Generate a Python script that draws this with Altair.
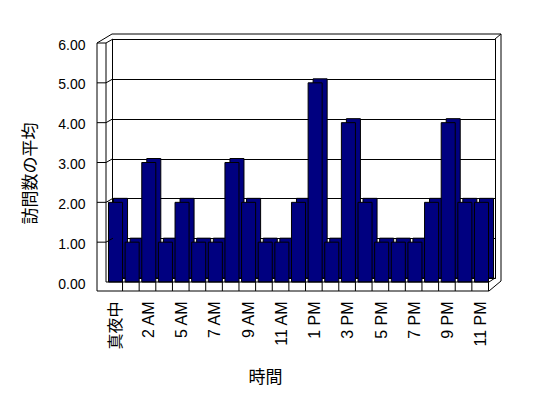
import altair as alt
import pandas as pd

# ---- data ----
hours = ["真夜中", "1 AM", "2 AM", "3 AM", "5 AM", "6 AM", "7 AM", "8 AM", "9 AM",
         "10 AM", "11 AM", "正午", "1 PM", "2 PM", "3 PM", "4 PM", "5 PM", "6 PM",
         "7 PM", "8 PM", "9 PM", "10 PM", "11 PM"]
visits = [2, 1, 3, 1, 2, 1, 1, 3, 2, 1, 1, 2, 5, 1, 4, 2, 1, 1, 1, 2, 4, 2, 2]
y_ticks = [0, 1, 2, 3, 4, 5, 6]
wall_levels = [1, 2, 3, 4, 5]
shown_labels = hours[::2]

df = pd.DataFrame({"hour": hours, "visits": visits})
lv = pd.DataFrame({"lvl": wall_levels})

# ---- style ----
NAVY = "#000080"
W, H = 383, 239
FONT = "Liberation Sans, Noto Sans CJK JP, sans-serif"
CJK = "Noto Sans CJK JP"

x_scale = alt.Scale(domain=hours, paddingInner=0.156, paddingOuter=0.09)
y_scale = alt.Scale(domain=[0, 6], nice=False)

x_axis = alt.Axis(values=shown_labels, labelAngle=-90, labelAlign="right",
                  labelBaseline="middle", labelPadding=23, labelOffset=-5,
                  labelOverlap=False, ticks=False, domain=False, grid=False,
                  labelFont=FONT, labelFontSize=16, labelColor="black",
                  title="時間", titleFont=CJK, titleFontSize=17,
                  titleFontWeight="normal", titleX=153, titleY=99,
                  titleAlign="center", titleBaseline="middle", titleColor="black")
y_axis = alt.Axis(values=y_ticks, format=".2f", grid=True, gridColor="black",
                  gridOpacity=1, gridWidth=1, ticks=False, domain=False,
                  labelOverlap=False, labelPadding=27, labelOffset=6,
                  labelFont=FONT, labelFontSize=14, labelColor="black",
                  title="訪問数の平均", titleFont=CJK, titleFontSize=17,
                  titleFontWeight="normal", titleX=-82, titleY=134,
                  titleAngle=-90, titleAlign="center", titleBaseline="middle",
                  titleColor="black")

base = alt.Chart(df)

back = base.mark_bar(color=NAVY, stroke="black", strokeWidth=1).encode(
    x=alt.X("hour:N", sort=hours, scale=x_scale, axis=x_axis),
    y=alt.Y("visits:Q", scale=y_scale, axis=y_axis),
)
front = base.mark_bar(color=NAVY, stroke="black", strokeWidth=1,
                      xOffset=-5, x2Offset=-5, yOffset=4, y2Offset=4).encode(
    x=alt.X("hour:N", sort=hours, scale=x_scale, axis=x_axis),
    y=alt.Y("visits:Q", scale=y_scale, axis=y_axis),
)
cells = base.mark_rule(color="black", strokeWidth=1, xOffset=-5).encode(
    x=alt.X("hour:N", sort=hours, scale=x_scale, bandPosition=1, axis=x_axis),
    y=alt.value(243), y2=alt.value(252),
)
wall_ticks = alt.Chart(lv).mark_rule(color="black", strokeWidth=1, yOffset=4).encode(
    x=alt.value(-15), x2=alt.value(-6),
    y=alt.Y("lvl:Q", scale=y_scale, axis=y_axis),
)
wall_diag = alt.Chart(lv).mark_rule(color="black", strokeWidth=1,
                                    yOffset=4, y2Offset=0).encode(
    x=alt.value(-6), x2=alt.value(1),
    y=alt.Y("lvl:Q", scale=y_scale, axis=y_axis), y2=alt.Y2("lvl"),
)

# decorative 3-D frame (walls and floor), pixel segments relative to plot area
FRAME = [
    (-15, 4, -15, 252), (-6, 4, -6, 243), (-15, 4, -6, 4),
    (-15, 4, 0, -5), (-6, 4, 1, 0), (0, -5, 389, -5),
    (389, -5, 389, 242), (383, 0, 389, -5), (389, 242, 377, 252),
    (-15, 252, 377, 252), (-6, 243, 377, 243), (377, 243, 383, 239),
]
frame_df = pd.DataFrame(FRAME, columns=["fx", "fy", "fx2", "fy2"])
frame = alt.Chart(frame_df).mark_rule(color="black", strokeWidth=1).encode(
    x=alt.X("fx:Q", scale=None, axis=None),
    x2="fx2:Q",
    y=alt.Y("fy:Q", scale=None, axis=None),
    y2="fy2:Q",
)

chart = alt.layer(back, front, cells, wall_ticks, wall_diag, frame).properties(
    width=W, height=H,
    padding={"left": 104, "top": 31, "right": 30, "bottom": 110},
    autosize=alt.AutoSizeParams(type="none"),
    background="white",
).configure_view(stroke="black", strokeWidth=1)

chart.save("out.html", embed_options={"renderer": "svg", "actions": False})
